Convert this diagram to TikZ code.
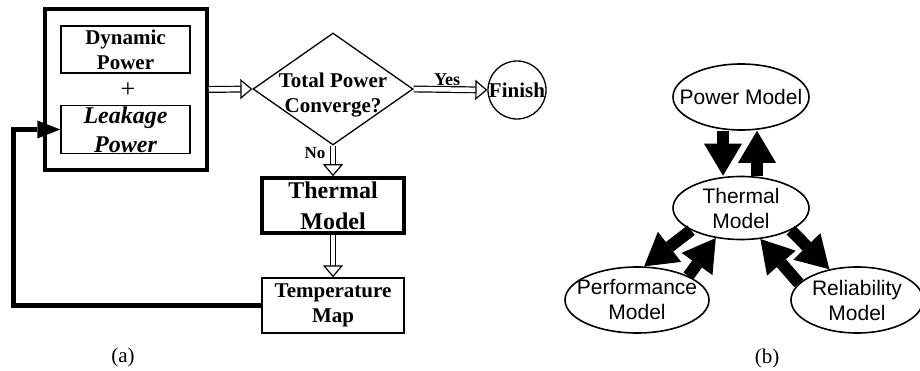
\documentclass[tikz,border=0pt]{standalone}
\usepackage{fontspec}
\setmainfont{Liberation Serif}
\newfontfamily\arialf{Liberation Sans}
\usepackage{tikz}
\usetikzlibrary{arrows.meta,shapes.geometric}

\begin{document}
\begin{tikzpicture}[x=1pt,y=-1pt,
  every node/.style={font=\fontsize{21}{25}\selectfont\bfseries},
  bx/.style={draw,line width=1.3pt,inner sep=1pt,align=center},
  thk/.style={line width=3.5pt},
  hol/.style={double,double distance=4.5pt,line width=1.2pt,-{Triangle[open,length=12pt,width=20pt]}},
  fb/.style={line width=5pt,-{Triangle[length=23pt,width=18pt,line width=0pt]}},
  ov/.style={draw,ellipse,line width=1.6pt,inner sep=-30pt,align=center,font=\fontsize{21}{25}\selectfont\arialf},
  blk/.style={line width=12pt,-{Triangle[length=32pt,width=38pt,line width=0pt]}}]
 \useasboundingbox (0,0) rectangle (920,371);
 \node[bx,thk,minimum width=162pt,minimum height=161pt] (PW) at (126,89.5) {};
 \node[bx,minimum width=129pt,minimum height=47pt] (DP) at (125.5,49.5) {Dynamic\\Power};
 \node[font=\fontsize{26}{30}\selectfont] (pl) at (128,90) {+};
 \node[bx,minimum width=129pt,minimum height=47pt,font=\fontsize{24}{29}\selectfont\bfseries\itshape] (LP) at (125.5,129.5) {Leakage\\Power};
 \node[draw,diamond,line width=1.3pt,inner sep=-25pt,minimum width=160pt,minimum height=112pt,align=center] (TP) at (333,89) {\rule{0pt}{26pt}Total Power\\Converge?};
 \node[draw,circle,line width=1.3pt,minimum size=58pt,inner sep=0pt] (FN) at (517,90) {Finish};
 \node[font=\fontsize{18}{20}\selectfont\bfseries] (ys) at (447,80) {Yes};
 \node[font=\fontsize{17}{20}\selectfont\bfseries] (no) at (315,153) {No};
 \node[bx,thk,minimum width=142pt,minimum height=55pt,font=\fontsize{24}{31}\selectfont\bfseries] (TM) at (333,205.5) {Thermal\\Model};
 \node[bx,minimum width=142pt,minimum height=55pt] (MP) at (333,305.5) {Temperature\\Map};
 \node[font=\fontsize{21}{25}\selectfont] (ca) at (123,357) {(a)};
 \foreach \a/\b in {PW/TP,TP/FN} \draw[hol] (\a.east) -- (\b.west);
 \foreach \a/\b in {TP/TM,TM/MP} \draw[hol] (\a.south) -- (\b.north);
 \draw[fb] (MP.west) -| ([xshift=-46.5pt]LP.west) -- (LP.west);
 \node[ov,minimum width=136pt,minimum height=66pt] (PM) at (741,97) {Power Model};
 \node[ov,minimum width=136pt,minimum height=63pt] (TH) at (741,208) {Thermal\\Model};
 \node[ov,minimum width=144pt,minimum height=66pt] (PF) at (637,300) {Performance\\Model};
 \node[ov,minimum width=132pt,minimum height=66pt] (RL) at (857,300) {Reliability\\Model};
 \node[font=\fontsize{21}{25}\selectfont] (cb) at (767,358) {(b)};
 \draw[blk] ([xshift=-18pt]PM.south) -- ([xshift=-18pt]TH.north);
 \draw[blk] ([xshift=16pt]TH.north) -- ([xshift=16pt]PM.south);
 \foreach \a/\b in {TH.204/PF.78,PF.25/TH.230,TH.336/RL.132,RL.164/TH.302} \draw[blk] (\a) -- (\b);
\end{tikzpicture}
\end{document}
